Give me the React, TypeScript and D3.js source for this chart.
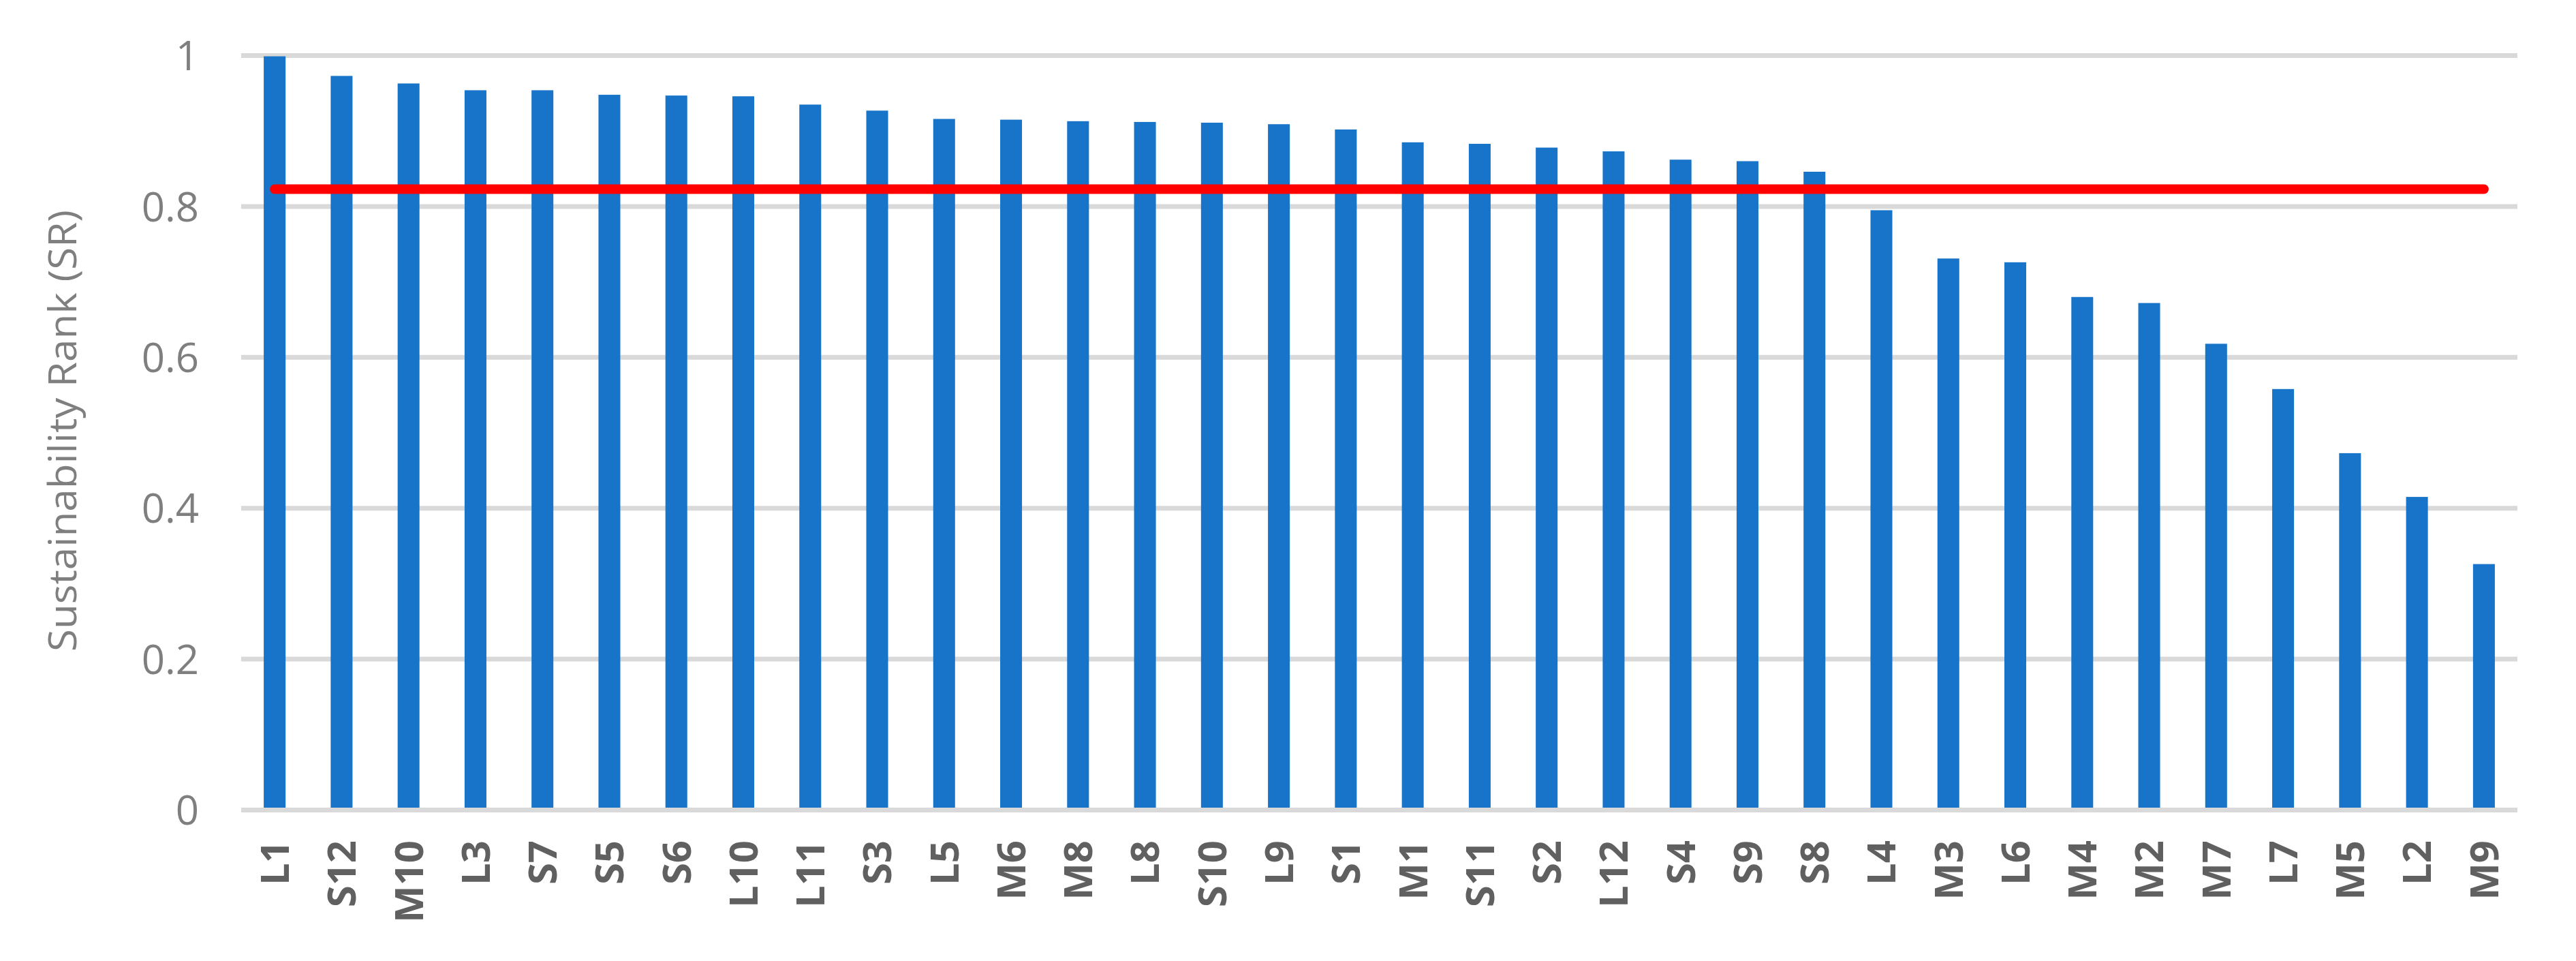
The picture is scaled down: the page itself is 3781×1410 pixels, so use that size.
import React from "react";
import * as d3 from "d3";

const categories = ["L1","S12","M10","L3","S7","S5","S6","L10","L11","S3","L5","M6","M8","L8","S10","L9","S1","M1","S11","S2","L12","S4","S9","S8","L4","M3","L6","M4","M2","M7","L7","M5","L2","M9"];
const srValues = [0.999,0.973,0.963,0.954,0.954,0.948,0.947,0.946,0.935,0.927,0.916,0.915,0.913,0.912,0.911,0.909,0.902,0.885,0.883,0.878,0.873,0.862,0.860,0.846,0.795,0.731,0.726,0.680,0.672,0.618,0.558,0.473,0.415,0.326];
const averageSR = 0.823;
const yTicks = [0, 0.2, 0.4, 0.6, 0.8, 1];
const yTickLabels = ["0", "0.2", "0.4", "0.6", "0.8", "1"];
const yTitle = "Sustainability Rank (SR)";

const W = 3781, H = 1410;
const plot = { left: 354, right: 3695, top: 81.5, bottom: 1188.5 };

export default function App() {
  const x = d3.scaleBand<string>().domain(categories).range([plot.left, plot.right]).paddingInner(0.674).paddingOuter(0.337);
  const y = d3.scaleLinear().domain([0, 1]).range([plot.bottom, plot.top]);
  const center = (c: string) => (x(c) as number) + x.bandwidth() / 2;
  const line = d3.line<string>().x((c) => center(c)).y(() => y(averageSR));
  const font = "'Open Sans', 'Noto Sans', sans-serif";

  return (
    <svg width={W} height={H} style={{ position: "absolute", left: 0, top: 0, background: "#fff" }}>
      <rect x={0} y={0} width={W} height={H} fill="#fff" />
      {yTicks.map((t, i) => (
        <g key={t}>
          <line x1={plot.left} x2={plot.right} y1={y(t)} y2={y(t)} stroke="#d9d9d9" strokeWidth={7} />
          <text x={292} y={y(t)} dy="0.36em" textAnchor="end" fontFamily={font} fontSize={60} fill="#7f7f7f">{yTickLabels[i]}</text>
        </g>
      ))}
      {categories.map((c, i) => (
        <rect key={c} x={x(c)} y={y(srValues[i])} width={x.bandwidth()} height={y(0) - y(srValues[i]) - 3.5} fill="#1874c9" />
      ))}
      <path d={line([categories[0], categories[categories.length - 1]]) || ""} stroke="#ff0000" strokeWidth={14} strokeLinecap="round" fill="none" />
      {categories.map((c) => (
        <text key={c} transform={`translate(${center(c)},1233) rotate(-90)`} dy="0.36em" textAnchor="end" fontFamily={font} fontWeight="bold" fontSize={58} fill="#606060">{c}</text>
      ))}
      <text transform={`translate(92,632) rotate(-90)`} dy="0.36em" textAnchor="middle" fontFamily={font} fontSize={56} fill="#7f7f7f" textLength={648} lengthAdjust="spacingAndGlyphs">{yTitle}</text>
    </svg>
  );
}
